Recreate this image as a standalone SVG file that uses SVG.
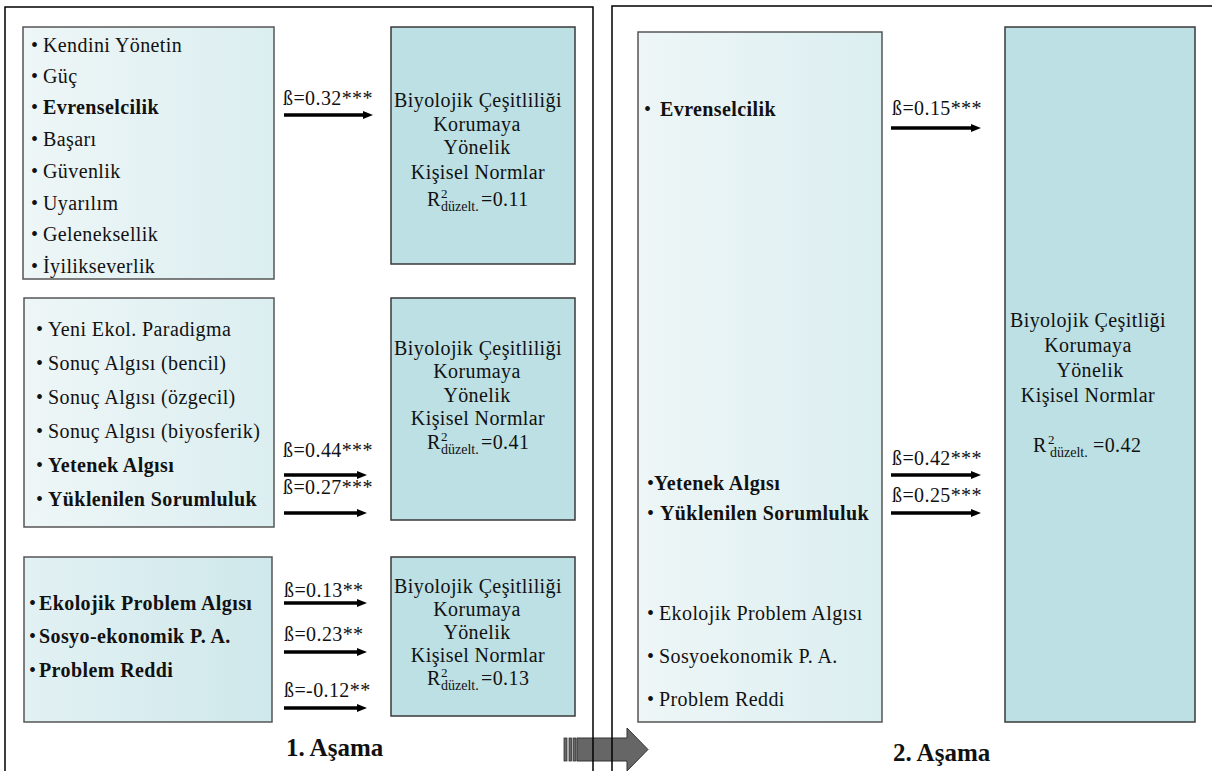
<svg xmlns="http://www.w3.org/2000/svg" width="1212" height="771" viewBox="0 0 1212 771">
<style>
text{font-family:"Liberation Serif","Times New Roman",serif;fill:#111;font-size:20px;letter-spacing:0.4px}
.b{font-weight:bold}
.c{text-anchor:middle}
.sm{font-size:13px;letter-spacing:0}
.sb{font-size:14px;letter-spacing:0}
.lbox{stroke:#555;stroke-width:1.5}
.tbox{fill:#bce0e3;stroke:#3a3a3a;stroke-width:1.5}
.arr{stroke:#000;stroke-width:3.5;marker-end:url(#ah)}
.frame{stroke:#000;stroke-width:1.5;fill:none}
.stage{font-size:25px;font-weight:bold;letter-spacing:0}
</style>
<defs>
<linearGradient id="g1" x1="0" y1="0" x2="1" y2="0">
<stop offset="0" stop-color="#eef6f7"/><stop offset="1" stop-color="#dbeef0"/>
</linearGradient>
<linearGradient id="g3" x1="0" y1="0" x2="1" y2="0">
<stop offset="0" stop-color="#e2f1f3"/><stop offset="1" stop-color="#cfe8eb"/>
</linearGradient>
<marker id="ah" markerUnits="userSpaceOnUse" markerWidth="10" markerHeight="8" refX="1" refY="4" orient="auto">
<path d="M0,0 L10,4 L0,8 z" fill="#000"/>
</marker>
</defs>
<rect width="1212" height="771" fill="#fff"/>

<g id="stage-arrow">
<rect x="564" y="738" width="3" height="23" fill="#666" stroke="#333" stroke-width="0.8"/>
<rect x="569" y="738" width="2.5" height="23" fill="#666" stroke="#333" stroke-width="0.8"/>
<rect x="573" y="738" width="3" height="23" fill="#666" stroke="#333" stroke-width="0.8"/>
<path d="M577,738 L627,738 L627,728 L648,749.5 L627,771 L627,761 L577,761 z" fill="#666" stroke="#333" stroke-width="1"/>
</g>

<g id="frames">
<path class="frame" d="M5,771 L5,7 L593,7 L593,771"/>
<path class="frame" d="M612,771 L612,6 L1212,6"/>
</g>

<g id="values1">
<rect class="lbox" x="23" y="27" width="251" height="252" fill="url(#g1)"/>
<text x="31" y="52">•</text><text x="43" y="52">Kendini Yönetin</text>
<text x="31" y="83">•</text><text x="43" y="83">Güç</text>
<text x="31" y="114">•</text><text class="b" x="43" y="114">Evrenselcilik</text>
<text x="31" y="146">•</text><text x="43" y="146">Başarı</text>
<text x="31" y="178">•</text><text x="43" y="178">Güvenlik</text>
<text x="31" y="210">•</text><text x="43" y="210">Uyarılım</text>
<text x="31" y="241">•</text><text x="43" y="241">Geleneksellik</text>
<text x="31" y="273">•</text><text x="43" y="273">İyilikseverlik</text>
</g>

<g id="norms1">
<rect class="tbox" x="391" y="27" width="184" height="237"/>
<text class="c" x="478" y="107">Biyolojik Çeşitliliği</text>
<text class="c" x="477" y="131">Korumaya</text>
<text class="c" x="477" y="154">Yönelik</text>
<text class="c" x="478" y="179">Kişisel Normlar</text>
<text><tspan x="427" y="206">R</tspan><tspan class="sm" x="441" y="198">2</tspan><tspan class="sb" x="441" y="211">düzelt.</tspan><tspan x="481" y="206">=0.11</tspan></text>
</g>

<g id="values2">
<rect class="lbox" x="24" y="298" width="250" height="229" fill="url(#g1)"/>
<text x="36" y="336">•</text><text x="48" y="336">Yeni Ekol. Paradigma</text>
<text x="36" y="370">•</text><text x="48" y="370">Sonuç Algısı (bencil)</text>
<text x="36" y="404">•</text><text x="48" y="404">Sonuç Algısı (özgecil)</text>
<text x="36" y="438">•</text><text x="48" y="438">Sonuç Algısı (biyosferik)</text>
<text x="36" y="472">•</text><text class="b" x="48" y="472">Yetenek Algısı</text>
<text x="36" y="506">•</text><text class="b" x="48" y="506">Yüklenilen Sorumluluk</text>
</g>

<g id="norms2">
<rect class="tbox" x="391" y="298" width="184" height="222"/>
<text class="c" x="478" y="355">Biyolojik Çeşitliliği</text>
<text class="c" x="477" y="378">Korumaya</text>
<text class="c" x="477" y="402">Yönelik</text>
<text class="c" x="478" y="425">Kişisel Normlar</text>
<text><tspan x="427" y="449">R</tspan><tspan class="sm" x="441" y="441">2</tspan><tspan class="sb" x="441" y="454">düzelt.</tspan><tspan x="481" y="449">=0.41</tspan></text>
</g>

<g id="problems1">
<rect class="lbox" x="24" y="557" width="248" height="165" fill="url(#g3)"/>
<text x="29" y="610">•</text><text class="b" x="39" y="610">Ekolojik Problem Algısı</text>
<text x="29" y="643">•</text><text class="b" x="39" y="643">Sosyo-ekonomik P. A.</text>
<text x="29" y="677">•</text><text class="b" x="39" y="677">Problem Reddi</text>
</g>

<g id="norms3">
<rect class="tbox" x="391" y="557" width="184" height="159"/>
<text class="c" x="478" y="593">Biyolojik Çeşitliliği</text>
<text class="c" x="477" y="616">Korumaya</text>
<text class="c" x="477" y="639">Yönelik</text>
<text class="c" x="478" y="662">Kişisel Normlar</text>
<text><tspan x="427" y="685">R</tspan><tspan class="sm" x="441" y="677">2</tspan><tspan class="sb" x="441" y="690">düzelt.</tspan><tspan x="481" y="685">=0.13</tspan></text>
</g>

<g id="predictors2">
<rect class="lbox" x="638" y="32" width="244" height="690" fill="url(#g1)"/>
<text x="644" y="116">•</text><text class="b" x="660" y="116">Evrenselcilik</text>
<text x="647" y="490">•</text><text class="b" x="654" y="490">Yetenek Algısı</text>
<text x="647" y="520">•</text><text class="b" x="660" y="520">Yüklenilen Sorumluluk</text>
<text x="647" y="620">•</text><text x="659" y="620">Ekolojik Problem Algısı</text>
<text x="647" y="663">•</text><text x="659" y="663">Sosyoekonomik P. A.</text>
<text x="647" y="706">•</text><text x="659" y="706">Problem Reddi</text>
</g>

<g id="norms-final">
<rect class="tbox" x="1005" y="27" width="190" height="695"/>
<text class="c" x="1088" y="327">Biyolojik Çeşitliği</text>
<text class="c" x="1088" y="352">Korumaya</text>
<text class="c" x="1090" y="377">Yönelik</text>
<text class="c" x="1088" y="402">Kişisel Normlar</text>
<text><tspan x="1033" y="452">R</tspan><tspan class="sm" x="1048" y="444">2</tspan><tspan class="sb" x="1050" y="457">düzelt.</tspan><tspan x="1093" y="452">=0.42</tspan></text>
</g>

<g id="connectors">
<line class="arr" x1="284" y1="115" x2="364" y2="115"/>
<text x="283" y="105">ß=0.32***</text>
<line class="arr" x1="284" y1="475" x2="358" y2="475"/>
<text x="283" y="457">ß=0.44***</text>
<line class="arr" x1="284" y1="513" x2="358" y2="513"/>
<text x="283" y="494">ß=0.27***</text>
<line class="arr" x1="284" y1="603" x2="358" y2="603"/>
<text x="284" y="597">ß=0.13**</text>
<line class="arr" x1="284" y1="652" x2="358" y2="652"/>
<text x="284" y="641">ß=0.23**</text>
<line class="arr" x1="284" y1="708" x2="358" y2="708"/>
<text x="284" y="697">ß=-0.12**</text>
<line class="arr" x1="891" y1="128" x2="972" y2="128"/>
<text x="892" y="115">ß=0.15***</text>
<line class="arr" x1="891" y1="475" x2="972" y2="475"/>
<text x="892" y="465">ß=0.42***</text>
<line class="arr" x1="891" y1="513" x2="972" y2="513"/>
<text x="892" y="502">ß=0.25***</text>
</g>

<g id="stage-labels">
<text class="stage" x="286" y="756">1. Aşama</text>
<text class="stage" x="893" y="761">2. Aşama</text>
</g>
</svg>
